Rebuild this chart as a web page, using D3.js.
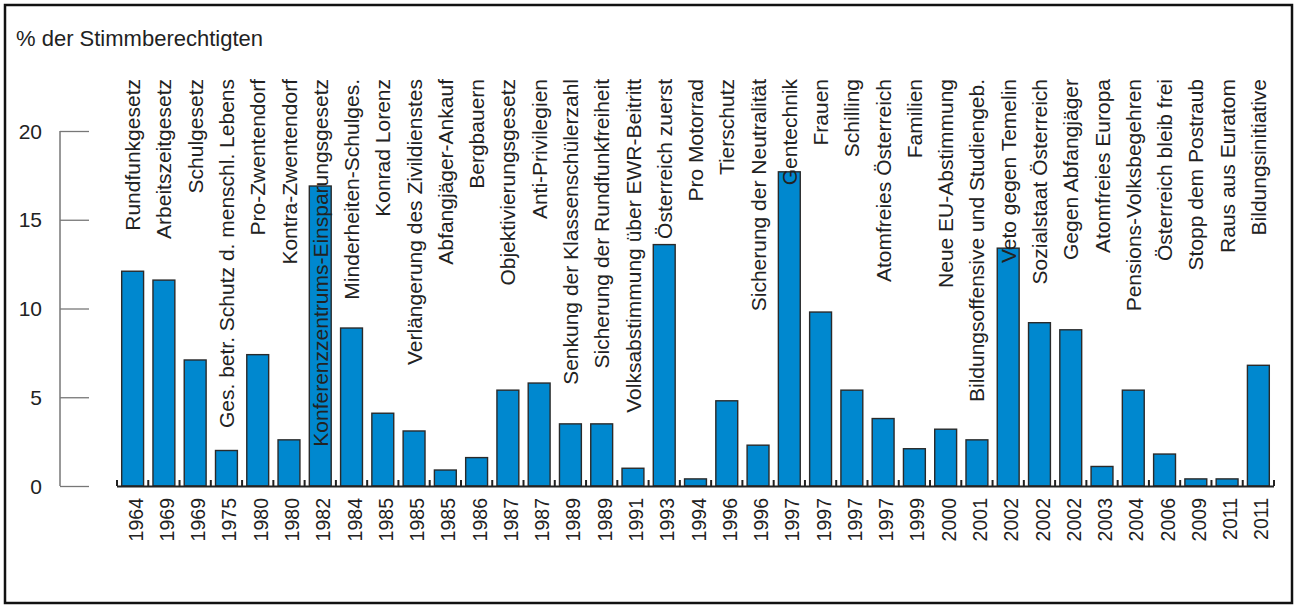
<!DOCTYPE html>
<html>
<head>
<meta charset="utf-8">
<script src="https://cdn.jsdelivr.net/npm/d3@7"></script>
<style>
  body { margin: 0; background: #fff; }
  text { font-family: "Liberation Sans", Arial, sans-serif; fill: #222; }
</style>
</head>
<body>
<svg width="1300" height="608"></svg>
<script>
const svg = d3.select('svg');

// data
const names = ["Rundfunkgesetz", "Arbeitszeitgesetz", "Schulgesetz", "Ges. betr. Schutz d. menschl. Lebens",
  "Pro-Zwentendorf", "Kontra-Zwentendorf", "Konferenzzentrums-Einsparungsgesetz", "Minderheiten-Schulges.",
  "Konrad Lorenz", "Verlängerung des Zivildienstes", "Abfangjäger-Ankauf", "Bergbauern",
  "Objektivierungsgesetz", "Anti-Privilegien", "Senkung der Klassenschülerzahl", "Sicherung der Rundfunkfreiheit",
  "Volksabstimmung über EWR-Beitritt", "Österreich zuerst", "Pro Motorrad", "Tierschutz",
  "Sicherung der Neutralität", "Gentechnik", "Frauen", "Schilling", "Atomfreies Österreich", "Familien",
  "Neue EU-Abstimmung", "Bildungsoffensive und Studiengeb.", "Veto gegen Temelin", "Sozialstaat Österreich",
  "Gegen Abfangjäger", "Atomfreies Europa", "Pensions-Volksbegehren", "Österreich bleib frei",
  "Stopp dem Postraub", "Raus aus Euratom", "Bildungsinitiative"];
const years = ["1964", "1969", "1969", "1975", "1980", "1980", "1982", "1984", "1985", "1985", "1985", "1986",
  "1987", "1987", "1989", "1989", "1991", "1993", "1994", "1996", "1996", "1997", "1997", "1997", "1997", "1999",
  "2000", "2001", "2002", "2002", "2002", "2003", "2004", "2006", "2009", "2011", "2011"];
const values = [12.1, 11.6, 7.1, 2.0, 7.4, 2.6, 16.9, 8.9, 4.1, 3.1, 0.9, 1.6, 5.4, 5.8, 3.5, 3.5, 1.0, 13.6,
  0.4, 4.8, 2.3, 17.7, 9.8, 5.4, 3.8, 2.1, 3.2, 2.6, 13.4, 9.2, 8.8, 1.1, 5.4, 1.8, 0.4, 0.4, 6.8];
const yTicks = [0, 5, 10, 15, 20];

const data = names.map((n, i) => ({ name: n, year: years[i], value: values[i], idx: i }));

const plot = { left: 117, right: 1274, top: 131, bottom: 486 };

// outer frame
svg.append('rect')
  .attr('x', 5).attr('y', 5)
  .attr('width', 1287).attr('height', 598)
  .attr('fill', 'none')
  .attr('stroke', '#111')
  .attr('stroke-width', 2.5);

// title
svg.append('text')
  .attr('x', 16).attr('y', 46)
  .style('font-size', '22px')
  .text('% der Stimmberechtigten');

const xScale = d3.scaleBand()
  .domain(data.map(d => d.idx))
  .range([plot.left, plot.right])
  .paddingInner(0.3)
  .paddingOuter(0.15);

const yScale = d3.scaleLinear()
  .domain([0, 20])
  .range([plot.bottom, plot.top]);

// y axis: vertical line with long ticks to the right
const yAxis = svg.append('g')
  .attr('transform', 'translate(60,0)')
  .call(d3.axisRight(yScale).tickValues(yTicks).tickSize(29).tickFormat(''));
yAxis.select('.domain').attr('stroke', '#333').attr('d', `M0,${plot.top}V${plot.bottom}`);
yAxis.selectAll('.tick line').attr('stroke', '#777').attr('stroke-width', 1.3);

svg.append('g')
  .selectAll('text')
  .data(yTicks)
  .enter()
  .append('text')
  .attr('x', 42)
  .attr('y', d => yScale(d))
  .attr('dy', '0.36em')
  .attr('text-anchor', 'end')
  .style('font-size', '21px')
  .text(d => d);

// bars
const gap = xScale.step() * xScale.paddingInner();

svg.append('g')
  .selectAll('rect')
  .data(data)
  .enter()
  .append('rect')
  .attr('x', d => xScale(d.idx))
  .attr('y', d => yScale(d.value))
  .attr('width', xScale.bandwidth())
  .attr('height', d => yScale(0) - yScale(d.value))
  .attr('fill', '#0088cf')
  .attr('stroke', '#2a2a2a')
  .attr('stroke-width', 1.4);

// baseline with small ticks at category borders
const borders = data.map(d => xScale(d.idx) - gap / 2).concat([plot.right]);
svg.append('line')
  .attr('x1', plot.left).attr('x2', plot.right)
  .attr('y1', plot.bottom + 0.5).attr('y2', plot.bottom + 0.5)
  .attr('stroke', '#222').attr('stroke-width', 2.2);
svg.append('g')
  .selectAll('line')
  .data(borders)
  .enter()
  .append('line')
  .attr('x1', d => d).attr('x2', d => d)
  .attr('y1', plot.bottom).attr('y2', plot.bottom - 6)
  .attr('stroke', '#222').attr('stroke-width', 2);

// category labels, rotated, ending at the top
svg.append('g')
  .selectAll('text')
  .data(data)
  .enter()
  .append('text')
  .attr('transform', d => `translate(${xScale(d.idx) + xScale.bandwidth() / 2},79) rotate(-90)`)
  .attr('dy', '0.36em')
  .attr('text-anchor', 'end')
  .style('font-size', '21px')
  .text(d => d.name);

// year labels below the bars
svg.append('g')
  .selectAll('text')
  .data(data)
  .enter()
  .append('text')
  .attr('transform', d => `translate(${xScale(d.idx) + xScale.bandwidth() / 2 + 3},498) rotate(-90)`)
  .attr('dy', '0.36em')
  .attr('text-anchor', 'end')
  .style('font-size', '19.5px')
  .text(d => d.year);
</script>
</body>
</html>
